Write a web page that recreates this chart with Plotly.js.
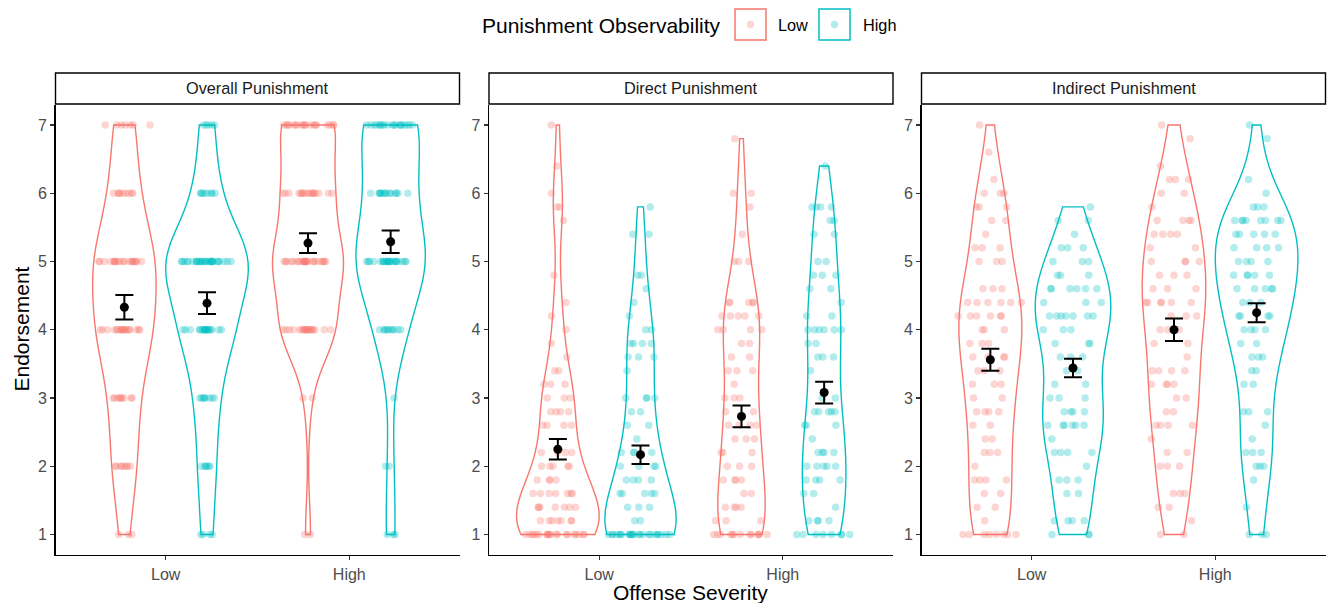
<!DOCTYPE html>
<html>
<head>
<meta charset="utf-8">
<script src="https://cdn.plot.ly/plotly-3.0.1.min.js"></script>
<style>html,body{margin:0;padding:0;background:#fff;}#chart{width:1331px;height:603px;}</style>
</head>
<body>
<div id="chart"></div>
<script>
// ---------------- DATA ----------------
const panelTitles = ['Overall Punishment', 'Direct Punishment', 'Indirect Punishment'];
const severityLabels = ['Low', 'High'];
const observabilityLabels = ['Low', 'High'];

// response levels
const overallLevels = [1, 2, 3, 4, 5, 6, 7];
const fineLevels = [1.0, 1.2, 1.4, 1.6, 1.8, 2.0, 2.2, 2.4, 2.6, 2.8, 3.0, 3.2, 3.4, 3.6, 3.8, 4.0,
                    4.2, 4.4, 4.6, 4.8, 5.0, 5.2, 5.4, 5.6, 5.8, 6.0, 6.2, 6.4, 6.6, 6.8, 7.0];

// counts of responses at each level (severity / observability)
const overallLowLow   = [3, 8, 9, 18, 20, 9, 7];
const overallLowHigh  = [4, 6, 8, 18, 30, 8, 5];
const overallHighLow  = [2, 0, 2, 19, 24, 17, 19];
const overallHighHigh = [3, 2, 1, 10, 23, 14, 19];

const directLowLow   = [20,7,7,7,4, 5,4,0,4,4, 3,3,2,1,1, 1,1,1,0,1, 0,0,0,1,2, 1,0,1,0,0, 1];
const directLowHigh  = [24,2,3,5,4, 4,4,1,2,2, 4,0,1,3,4, 2,1,1,1,2, 0,0,2,0,1, 0,0,0,0,0, 0];
const directHighLow  = [13,3,4,2,4, 3,3,3,4,2, 3,1,3,2,2, 4,5,5,0,0, 3,0,1,0,1, 2,0,0,0,1, 0];
const directHighHigh = [8,4,1,2,4, 5,4,1,3,5, 2,0,1,3,2, 6,2,1,2,3, 2,0,2,2,4, 0,0,1,0,0, 0];

const indirectLowLow   = [8,1,2,2,4, 1,3,2,2,4, 2,3,3,4,3, 3,6,6,3,0, 3,3,1,2,3, 3,1,0,1,0, 1];
const indirectLowHigh  = [3,4,0,2,3, 1,4,1,6,4, 3,2,2,3,3, 3,7,3,6,3, 3,3,1,2,1, 0,0,0,0,0, 0];
const indirectHighLow  = [2,1,2,3,0, 3,2,1,4,2, 2,4,4,1,2, 3,3,6,3,3, 4,2,4,4,1, 2,3,1,0,1, 1];
const indirectHighHigh = [3,0,1,0,1, 3,3,1,1,3, 0,2,2,3,2, 4,4,3,5,5, 4,4,5,8,3, 1,1,0,0,1, 1];

// means and standard errors, order: LowSev-LowObs, LowSev-HighObs, HighSev-LowObs, HighSev-HighObs
const overallMean  = [4.33, 4.39, 5.27, 5.29];
const overallSE    = [0.18, 0.16, 0.145, 0.165];
const directMean   = [2.25, 2.17, 2.73, 3.08];
const directSE     = [0.15, 0.135, 0.16, 0.16];
const indirectMean = [3.56, 3.44, 4.00, 4.25];
const indirectSE   = [0.16, 0.135, 0.165, 0.14];

// ---------------- helpers ----------------
const W = 1331, H = 603;
const px = v => v / W;
const py = v => 1 - v / H;
const colors = ['#F8766D', '#00BFC4'];
const colorsA = ['rgba(248,118,109,0.3)', 'rgba(0,191,196,0.3)'];

function expand(levels, counts) {
  const out = [];
  levels.forEach((v, i) => { for (let k = 0; k < counts[i]; k++) out.push(v); });
  return out;
}
function q7(s, p) {
  const h = (s.length - 1) * p, lo = Math.floor(h), hi = Math.min(lo + 1, s.length - 1);
  return s[lo] + (h - lo) * (s[hi] - s[lo]);
}
// kernel bandwidth: 'nrd0' (R default) or 'sd' (sd-only rule of thumb)
function bandwidth(x, rule) {
  const n = x.length, m = x.reduce((a, b) => a + b, 0) / n;
  const sd = Math.sqrt(x.reduce((a, b) => a + (b - m) * (b - m), 0) / (n - 1));
  let lo = sd;
  if (rule === 'nrd0') {
    const s = x.slice().sort((a, b) => a - b);
    lo = Math.min(sd, (q7(s, 0.75) - q7(s, 0.25)) / 1.34);
    if (!(lo > 0)) lo = sd || 1;
  }
  return 0.9 * lo * Math.pow(n, -0.2);
}
function maxDensity(x, bw) {
  const lo = Math.min(...x), hi = Math.max(...x);
  let best = 0;
  for (let k = 0; k <= 300; k++) {
    const t = lo + (hi - lo) * k / 300;
    let s = 0;
    for (const v of x) { const z = (t - v) / bw; s += Math.exp(-0.5 * z * z); }
    s /= (x.length * bw * Math.sqrt(2 * Math.PI));
    if (s > best) best = s;
  }
  return best;
}

const panels = [
  {levels: overallLevels, bw: 'sd', jitterWidth: 0.28, groups: [overallLowLow, overallLowHigh, overallHighLow, overallHighHigh], mean: overallMean, se: overallSE},
  {levels: fineLevels, bw: 'nrd0', jitterWidth: 0.36, groups: [directLowLow, directLowHigh, directHighLow, directHighHigh], mean: directMean, se: directSE},
  {levels: fineLevels, bw: 'nrd0', jitterWidth: 0.36, groups: [indirectLowLow, indirectLowHigh, indirectHighLow, indirectHighHigh], mean: indirectMean, se: indirectSE}
];
// panel pixel extents
const panelX = [[55.5, 459.5], [489, 893], [921.5, 1325.5]];
const plotTop = 104.5, plotBottom = 555;
const dodge = [-0.225, 0.225];
const violinWidth = 0.45;

const violins = [], pointsTr = [], summaries = [];
panels.forEach((p, pi) => {
  const xa = pi === 0 ? 'x' : 'x' + (pi + 1);
  const ya = pi === 0 ? 'y' : 'y' + (pi + 1);
  const info = p.groups.map(cnt => {
    const vals = expand(p.levels, cnt);
    const bw = bandwidth(vals, p.bw);
    return {vals, bw, peak: maxDensity(vals, bw)};
  });
  const panelPeak = Math.max(...info.map(d => d.peak));
  info.forEach((d, gi) => {
    const sev = Math.floor(gi / 2), obs = gi % 2;
    const pos = sev + 1 + dodge[obs];
    violins.push({
      type: 'violin', xaxis: xa, yaxis: ya,
      x: d.vals.map(() => pos), y: d.vals,
      scalemode: 'width', width: violinWidth * d.peak / panelPeak,
      spanmode: 'hard', bandwidth: d.bw,
      line: {color: colors[obs], width: 1.4},
      fillcolor: 'rgba(0,0,0,0)',
      points: false,
      box: {visible: false}, meanline: {visible: false},
      name: observabilityLabels[obs], showlegend: false, hoverinfo: 'skip'
    });
    pointsTr.push({
      type: 'box', xaxis: xa, yaxis: ya,
      x: d.vals.map(() => pos), y: d.vals,
      width: p.jitterWidth, boxpoints: 'all', jitter: 1, pointpos: 0,
      line: {color: 'rgba(0,0,0,0)', width: 0}, fillcolor: 'rgba(0,0,0,0)', whiskerwidth: 0,
      marker: {color: colors[obs], size: 7.5, opacity: 0.3, line: {width: 0}},
      name: observabilityLabels[obs], showlegend: false, hoverinfo: 'y'
    });
  });
  summaries.push({
    type: 'scatter', mode: 'markers', xaxis: xa, yaxis: ya,
    x: [1 + dodge[0], 1 + dodge[1], 2 + dodge[0], 2 + dodge[1]],
    y: p.mean,
    error_y: {type: 'data', array: p.se, visible: true, color: '#000', thickness: 2, width: 9},
    marker: {color: '#000', size: 9},
    showlegend: false, hoverinfo: 'y'
  });
});

const font = 'Liberation Sans, Arial, sans-serif';
const layout = {
  width: W, height: H,
  margin: {l: 0, r: 0, t: 0, b: 0, pad: 0},
  paper_bgcolor: '#fff', plot_bgcolor: '#fff',
  font: {family: font, color: '#000'},
  showlegend: false,
  violinmode: 'overlay', boxmode: 'overlay',
  shapes: [], annotations: []
};
panelX.forEach((ext, pi) => {
  const sfx = pi === 0 ? '' : String(pi + 1);
  layout['xaxis' + sfx] = {
    domain: [px(ext[0]), px(ext[1])], anchor: 'y' + sfx, range: [0.4, 2.6],
    tickvals: [1, 2], ticktext: severityLabels,
    showline: true, linecolor: '#000', linewidth: 1.4, mirror: false,
    ticks: 'outside', ticklen: 4, tickwidth: 1.2, tickcolor: '#333',
    tickfont: {size: 16, color: '#4D4D4D', family: font},
    showgrid: false, zeroline: false, automargin: false, fixedrange: true
  };
  layout['yaxis' + sfx] = {
    domain: [1 - plotBottom / H, 1 - plotTop / H], anchor: 'x' + sfx, range: [0.7, 7.3],
    tickvals: [1, 2, 3, 4, 5, 6, 7],
    showline: true, linecolor: '#000', linewidth: 1.4,
    ticks: 'outside', ticklen: 4, tickwidth: 1.2, tickcolor: '#333',
    tickfont: {size: 16, color: '#4D4D4D', family: font},
    showgrid: false, zeroline: false, automargin: false, fixedrange: true
  };
  // strip
  layout.shapes.push({type: 'rect', xref: 'paper', yref: 'paper',
    x0: px(ext[0]), x1: px(ext[1]), y0: py(104), y1: py(73),
    line: {color: '#000', width: 1.4}, fillcolor: '#fff'});
  layout.annotations.push({xref: 'paper', yref: 'paper', x: px((ext[0] + ext[1]) / 2), y: py(88.5),
    xanchor: 'center', yanchor: 'middle', showarrow: false, text: panelTitles[pi],
    font: {size: 16.3, color: '#1A1A1A', family: font}});
});
// axis titles
layout.annotations.push({xref: 'paper', yref: 'paper', x: px(21), y: py(329.5), textangle: -90,
  xanchor: 'center', yanchor: 'middle', showarrow: false, text: 'Endorsement',
  font: {size: 21, color: '#000', family: font}});
layout.annotations.push({xref: 'paper', yref: 'paper', x: px(690), y: py(592), 
  xanchor: 'center', yanchor: 'middle', showarrow: false, text: 'Offense Severity',
  font: {size: 21, color: '#000', family: font}});
// legend (drawn)
layout.annotations.push({xref: 'paper', yref: 'paper', x: px(723), y: py(25),
  xanchor: 'right', yanchor: 'middle', showarrow: false, text: 'Punishment Observability',
  font: {size: 21, color: '#000', family: font}});
const keyX = [735, 819], labX = [776, 861];
observabilityLabels.forEach((lab, i) => {
  layout.shapes.push({type: 'rect', xref: 'paper', yref: 'paper',
    x0: px(keyX[i]), x1: px(keyX[i] + 31), y0: py(40), y1: py(9),
    line: {color: colors[i], width: 1.5}, fillcolor: '#fff'});
  layout.shapes.push({type: 'circle', xref: 'paper', yref: 'paper',
    x0: px(keyX[i] + 15.5 - 3.7), x1: px(keyX[i] + 15.5 + 3.7), y0: py(24.5 + 3.7), y1: py(24.5 - 3.7),
    line: {width: 0}, fillcolor: colorsA[i]});
  layout.annotations.push({xref: 'paper', yref: 'paper', x: px(labX[i]), y: py(25),
    xanchor: 'left', yanchor: 'middle', showarrow: false, text: lab,
    font: {size: 16.3, color: '#000', family: font}});
});

Plotly.newPlot('chart', violins.concat(pointsTr, summaries), layout, {displayModeBar: false, staticPlot: true});
</script>
</body>
</html>
